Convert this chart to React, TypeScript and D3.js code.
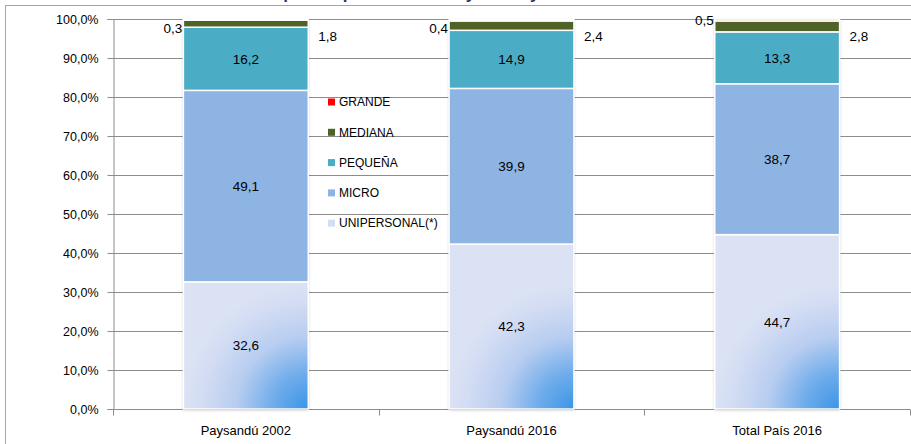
import React, { useEffect, useRef } from 'react'
import * as d3 from 'd3'

// categories and series (percent of companies by size)
const categories = ['Paysandú 2002', 'Paysandú 2016', 'Total País 2016']
const unipersonal = [32.6, 42.3, 44.7]
const micro = [49.1, 39.9, 38.7]
const pequena = [16.2, 14.9, 13.3]
const mediana = [1.8, 2.4, 2.8]
const grande = [0.3, 0.4, 0.5]
const seriesNames = ['UNIPERSONAL(*)', 'MICRO', 'PEQUEÑA', 'MEDIANA', 'GRANDE']
const yTicks = [0, 10, 20, 30, 40, 50, 60, 70, 80, 90, 100]

const W = 911
const H = 444
const font = '"Liberation Sans", Arial, sans-serif'

export default function App() {
    const ref = useRef<SVGSVGElement>(null)

    useEffect(() => {
        const svg = d3.select(ref.current)
        svg.selectAll('*').remove()

        const margin = { top: 19, left: 113, right: 1, bottom: 35 }
        const innerW = W - margin.left - margin.right
        const innerH = H - margin.top - margin.bottom

        const defs = svg.append('defs')
        const sh = defs.append('filter').attr('id', 'shadow')
            .attr('x', -0.1).attr('y', -0.1).attr('width', 1.2).attr('height', 1.2)
        sh.append('feDropShadow').attr('dx', 0).attr('dy', 1).attr('stdDeviation', 1.5)
            .attr('flood-color', '#000').attr('flood-opacity', 0.25)

        const legendColors = ['#d3ddf3', '#8eb4e3', '#4bacc6', '#4f6228', '#ff0000']

        // title, mostly cut off by the top edge
        svg.append('text')
            .attr('x', 440).attr('y', -1)
            .attr('text-anchor', 'middle')
            .attr('font-family', font).attr('font-weight', 'bold').attr('font-size', 17)
            .attr('fill', '#1f3864')
            .text('Empresas por tamaño. Paysandú y Total País')

        // outer frame
        svg.append('rect')
            .attr('x', 5.5).attr('y', 5.5).attr('width', 1000).attr('height', 1000)
            .attr('fill', 'none').attr('stroke', '#a6a6a6')

        const x = d3.scaleBand().domain(categories).range([0, innerW]).paddingInner(0.53).paddingOuter(0.265)
        const y = d3.scaleLinear().domain([0, 100]).range([innerH, 0])

        const g = svg.append('g').attr('transform', `translate(${margin.left},${margin.top})`)

        // gridlines
        g.selectAll('line.grid').data(yTicks.filter(t => t > 0)).enter().append('line')
            .attr('x1', 0).attr('x2', innerW + 5)
            .attr('y1', d => Math.round(y(d)) + 0.5).attr('y2', d => Math.round(y(d)) + 0.5)
            .attr('stroke', '#8c8c8c')

        const yAxis = g.append('g').attr('transform', 'translate(0.5,0)')
            .call(d3.axisLeft(y).tickValues(yTicks).tickSize(6).tickPadding(9)
                .tickFormat(d => d3.format('.1f')(d as number).replace('.', ',') + '%'))
        yAxis.select('.domain').attr('stroke', '#8c8c8c')
        yAxis.selectAll('.tick line').attr('stroke', '#8c8c8c')
        yAxis.selectAll('text').attr('font-family', font).attr('font-size', 12.5).attr('fill', '#000')

        const xAxis = g.append('g').attr('transform', `translate(0,${innerH + 0.5})`)
        xAxis.append('line').attr('x1', 0).attr('x2', innerW).attr('stroke', '#8c8c8c')
        const bounds = [0, 1, 2, 3].map(i => Math.round(i * innerW / 3) + 0.5)
        xAxis.selectAll('line.tk').data(bounds).enter().append('line')
            .attr('x1', d => d).attr('x2', d => d).attr('y1', 0).attr('y2', 6)
            .attr('stroke', '#8c8c8c')
        xAxis.selectAll('text').data(categories).enter().append('text')
            .attr('x', d => x(d)! + x.bandwidth() / 2).attr('y', 25)
            .attr('text-anchor', 'middle')
            .attr('font-family', font).attr('font-size', 13)
            .text(d => d)

        // stacked bars
        const rows = categories.map((c, i) => ({
            cat: c, UNI: unipersonal[i], MIC: micro[i], PEQ: pequena[i], MED: mediana[i], GRA: grande[i]
        }))
        const keys = ['UNI', 'MIC', 'PEQ', 'MED', 'GRA']
        const stacked = d3.stack<any>().keys(keys)(rows)

        // one gradient per bar, anchored on the bottom-right corner (in g's user space)
        rows.forEach((d, i) => {
            const gr = defs.append('radialGradient')
                .attr('id', `uniGrad${i}`)
                .attr('gradientUnits', 'userSpaceOnUse')
                .attr('cx', x(d.cat)! + x.bandwidth())
                .attr('cy', y(0))
                .attr('r', 125)
            gr.append('stop').attr('offset', 0).attr('stop-color', '#3a95e6')
            gr.append('stop').attr('offset', 0.28).attr('stop-color', '#6eaceb')
            gr.append('stop').attr('offset', 0.58).attr('stop-color', '#b8cdf0')
            gr.append('stop').attr('offset', 0.85).attr('stop-color', '#d2dcf3')
            gr.append('stop').attr('offset', 1).attr('stop-color', '#dbe2f4')
        })

        const barG = g.append('g')
        barG.selectAll('rect.bg').data(rows).enter().append('rect')
            .attr('x', d => x(d.cat)!).attr('width', x.bandwidth())
            .attr('y', d => y(d.UNI + d.MIC + d.PEQ + d.MED + d.GRA))
            .attr('height', d => y(0) - y(d.UNI + d.MIC + d.PEQ + d.MED + d.GRA))
            .attr('fill', '#fff').attr('filter', 'url(#shadow)')

        const colors = ['', '#8eb4e3', '#4bacc6', '#4f6228', '#f2a8a8']
        stacked.forEach((layer, li) => {
            barG.selectAll(`rect.s${li}`).data(layer).enter().append('rect')
                .attr('x', (d: any) => x(d.data.cat)!)
                .attr('width', x.bandwidth())
                .attr('y', d => y(d[1]))
                .attr('height', d => y(d[0]) - y(d[1]))
                .attr('fill', (d, i) => li === 0 ? `url(#uniGrad${i})` : colors[li])
                .attr('stroke', '#fff').attr('stroke-width', 1.5)
        })

        const fmt = (v: number) => d3.format('.1f')(v).replace('.', ',')

        // labels inside the three big segments
        stacked.slice(0, 3).forEach(layer => {
            g.selectAll(null).data(layer).enter().append('text')
                .attr('x', (d: any) => x(d.data.cat)! + x.bandwidth() / 2)
                .attr('y', d => (y(d[0]) + y(d[1])) / 2)
                .attr('dy', '0.35em')
                .attr('text-anchor', 'middle')
                .attr('font-family', font).attr('font-size', 13.5)
                .text(d => fmt(d[1] - d[0]))
        })

        // labels of the thin top segments, set outside the bars
        g.selectAll(null).data(rows).enter().append('text')
            .attr('x', d => x(d.cat)! - 1)
            .attr('y', (d, i) => y(100) + (i === 2 ? 1 : 9))
            .attr('dy', '0.35em')
            .attr('text-anchor', 'end')
            .attr('font-family', font).attr('font-size', 13.5)
            .text(d => fmt(d.GRA))
        g.selectAll(null).data(rows).enter().append('text')
            .attr('x', d => x(d.cat)! + x.bandwidth() + 10)
            .attr('y', d => y(100) + 17)
            .attr('dy', '0.35em')
            .attr('text-anchor', 'start')
            .attr('font-family', font).attr('font-size', 13.5)
            .text(d => fmt(d.MED))

        // legend, top entry first
        const legendOrder = [4, 3, 2, 1, 0]
        const lg = svg.append('g').attr('transform', 'translate(328,102)')
        legendOrder.forEach((si, k) => {
            const row = lg.append('g').attr('transform', `translate(0,${k * 30.3})`)
            row.append('rect').attr('x', 0).attr('y', -3.5).attr('width', 7).attr('height', 7)
                .attr('fill', legendColors[si])
            row.append('text').attr('x', 11).attr('y', 0).attr('dy', '0.35em')
                .attr('font-family', font).attr('font-size', 12)
                .text(seriesNames[si])
        })
    }, [])

    return (
        <svg ref={ref} width={W} height={H}
            style={{ position: 'absolute', left: 0, top: 0, background: '#fff' }} />
    )
}
